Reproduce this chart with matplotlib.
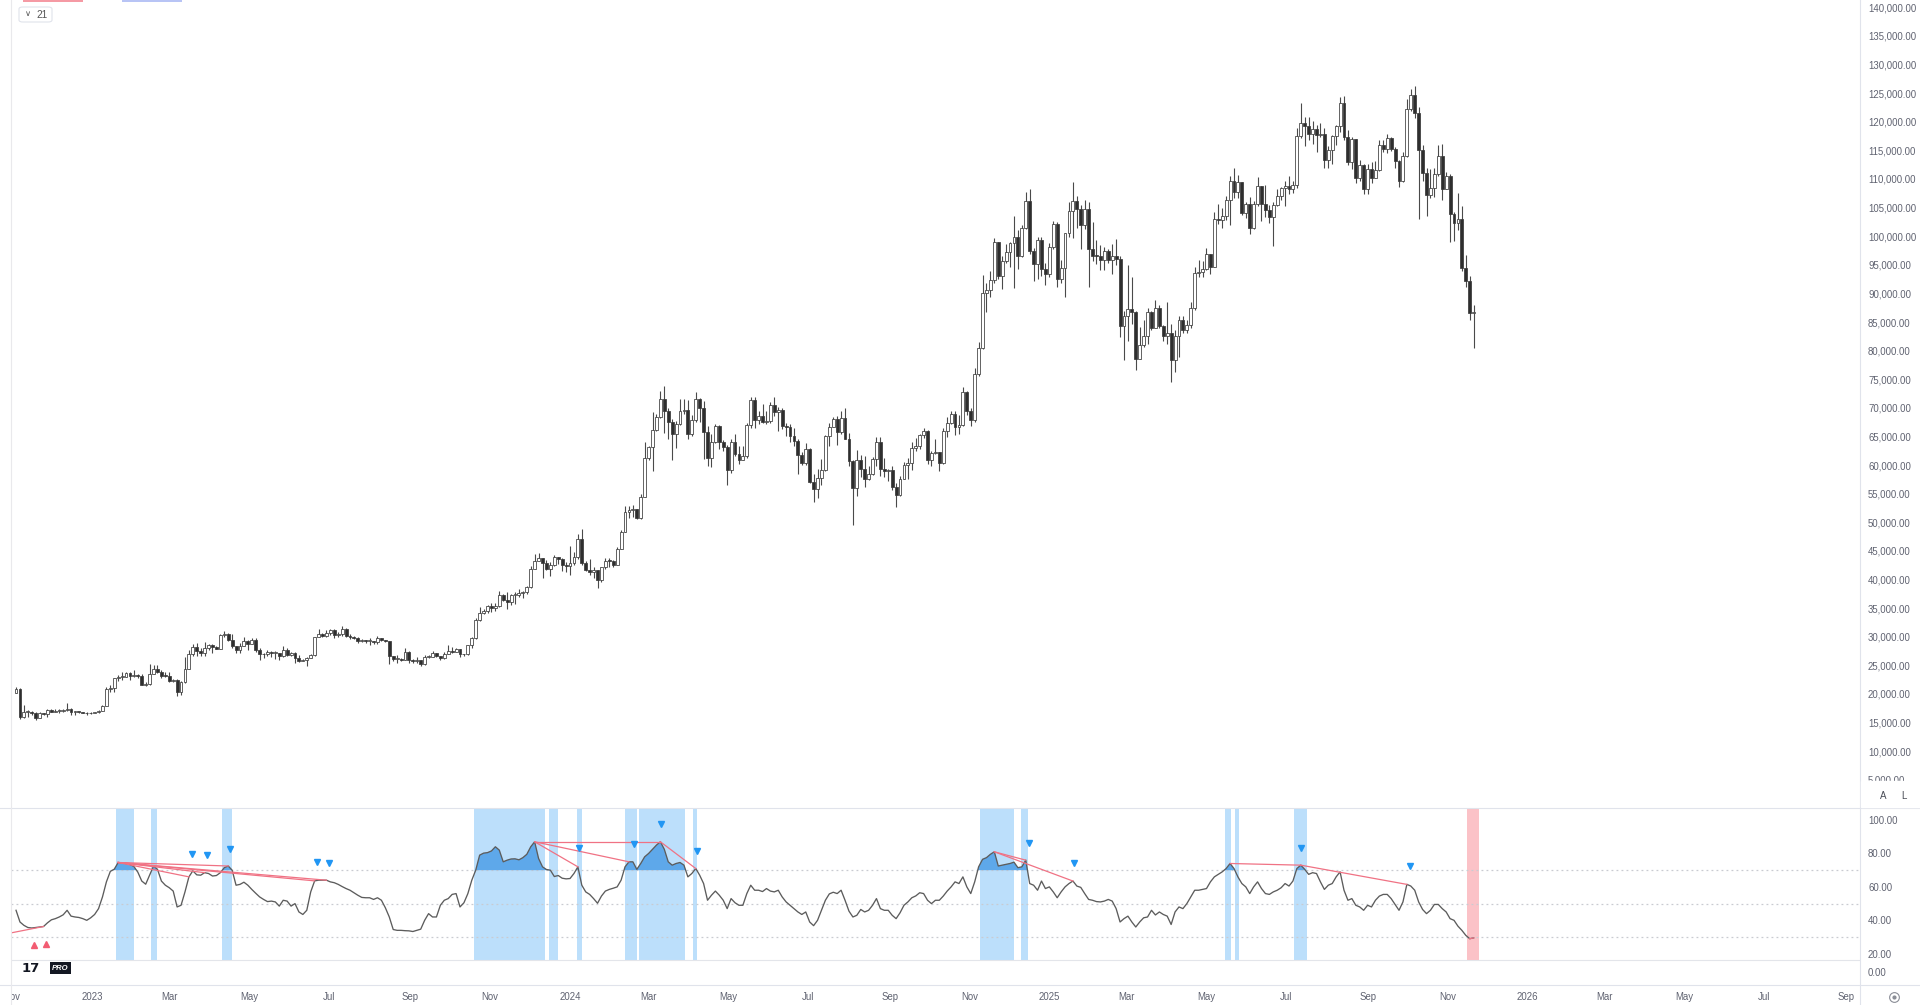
import numpy as np
import pandas as pd
import matplotlib
matplotlib.use("Agg")
import matplotlib.pyplot as plt
import matplotlib.dates as mdates
from matplotlib.lines import Line2D
from matplotlib.patches import Rectangle, FancyBboxPatch

plt.rcParams["font.family"] = ["Liberation Sans", "DejaVu Sans"]

W, H = 1920, 1005

# ---- price data: 3-day candles, values in thousands of USD ----
start = pd.Timestamp("2022-11-04")
first_open = 20.2

closes = [
    20.9, 15.9, 16.9, 16.9, 16.7, 15.8, 16.6, 16.5, 17.2, 16.9,
    17.1, 17.1, 17.2, 17.4, 16.8, 16.9, 16.8, 16.7, 16.6, 16.7,
    16.8, 17.1, 17.9, 20.9, 21.1, 22.7, 22.9, 23.0, 23.7, 23.1,
    23.3, 23.2, 21.6, 21.8, 23.5, 24.3, 23.8, 23.2, 23.1, 22.3,
    22.4, 20.4, 22.1, 24.4, 26.9, 28.2, 27.5, 27.1, 28.0, 28.5,
    28.2, 27.9, 30.3, 30.5, 29.4, 28.3, 27.6, 28.4, 29.3, 28.7,
    29.5, 27.7, 27.0, 26.9, 27.4, 27.1, 27.2, 26.7, 27.7, 26.8,
    27.1, 26.3, 25.8, 25.9, 26.3, 26.8, 29.9, 30.5, 30.1, 30.6,
    31.1, 30.3, 30.4, 31.4, 30.2, 29.9, 29.8, 29.2, 29.3, 29.2,
    29.2, 29.0, 29.8, 29.4, 29.2, 26.6, 26.1, 26.1, 26.0, 27.3,
    25.9, 25.8, 25.9, 25.2, 26.5, 26.5, 27.2, 26.6, 26.2, 26.9,
    27.5, 27.4, 27.9, 26.9, 26.9, 28.5, 29.7, 33.0, 34.2, 34.5,
    35.4, 35.0, 35.4, 37.3, 36.5, 36.0, 37.3, 37.3, 37.7, 37.8,
    38.7, 41.9, 43.3, 43.7, 42.9, 41.9, 42.6, 43.9, 43.6, 42.6,
    42.3, 42.8, 43.9, 47.0, 42.8, 41.7, 41.3, 41.6, 40.0, 42.1,
    43.3, 43.2, 42.6, 45.3, 48.3, 51.8, 52.1, 52.3, 50.7, 54.5,
    61.2, 63.1, 66.1, 68.4, 71.5, 69.5, 67.6, 65.5, 67.2, 69.5,
    69.6, 65.4, 67.8, 71.6, 70.0, 65.7, 61.3, 64.0, 66.8, 64.0,
    63.1, 59.1, 64.0, 62.0, 60.8, 61.6, 67.0, 71.4, 67.9, 68.5,
    67.6, 67.7, 70.5, 69.3, 69.6, 66.8, 66.6, 65.0, 64.2, 61.8,
    60.3, 62.8, 57.0, 55.9, 57.7, 59.2, 65.0, 66.7, 68.0, 65.8,
    68.2, 64.6, 60.7, 56.0, 60.9, 59.3, 57.5, 58.4, 61.1, 64.1,
    59.4, 59.0, 59.1, 56.2, 54.8, 57.6, 60.0, 60.3, 62.9, 63.3,
    65.2, 65.9, 60.8, 62.1, 62.2, 60.3, 66.0, 67.4, 69.0, 66.7,
    67.0, 72.7, 69.5, 67.8, 75.9, 80.4, 90.0, 90.6, 92.3, 98.9,
    93.0, 95.6, 97.3, 98.8, 99.9, 96.6, 101.4, 106.1, 97.5, 95.1,
    99.4, 94.3, 93.4, 98.1, 102.1, 92.5, 94.5, 100.5, 104.4, 106.1,
    104.7, 102.0, 104.7, 97.7, 96.6, 96.5, 95.8, 97.5, 95.8, 96.6,
    96.1, 84.3, 86.0, 87.2, 86.7, 78.6, 80.9, 82.6, 86.8, 83.9,
    87.5, 84.3, 82.5, 83.1, 78.3, 82.6, 85.3, 83.6, 84.5, 87.5,
    93.6, 93.8, 94.2, 96.9, 94.7, 103.0, 102.8, 103.5, 106.4, 109.6,
    107.8, 109.4, 104.0, 105.7, 101.5, 105.7, 108.7, 105.6, 104.5, 103.3,
    105.5, 107.1, 108.4, 108.8, 108.2, 108.9, 117.5, 119.8, 119.3, 117.9,
    118.8, 117.6, 117.9, 113.3, 115.0, 117.5, 119.3, 123.3, 117.4, 112.9,
    116.9, 110.1, 112.5, 108.2, 111.7, 110.2, 111.5, 115.9, 115.3, 117.1,
    115.2, 113.2, 109.6, 114.0, 122.3, 124.7, 121.6, 115.1, 111.0, 107.2,
    108.5, 110.9, 114.1, 108.3, 110.6, 103.9, 102.3, 103.0, 94.5, 92.2,
    86.6, 86.8,
]

highs = [
    21.3, 21.0, 18.1, 17.2, 17.1, 16.8, 16.8, 16.7, 17.3, 17.3,
    17.4, 17.3, 17.4, 18.4, 17.5, 17.1, 16.9, 16.9, 16.8, 16.8,
    16.9, 17.2, 18.1, 21.3, 21.6, 22.8, 23.3, 23.8, 23.9, 23.8,
    24.2, 23.4, 23.4, 22.1, 25.2, 25.0, 25.1, 24.1, 23.9, 23.9,
    22.6, 22.6, 22.2, 26.5, 27.7, 28.8, 28.9, 28.1, 29.1, 28.8,
    28.7, 28.3, 30.4, 31.0, 30.6, 30.5, 28.4, 28.9, 30.0, 29.5,
    29.8, 29.7, 28.0, 27.2, 27.6, 27.5, 27.5, 27.2, 28.4, 28.0,
    27.3, 27.3, 26.8, 26.1, 26.4, 26.9, 30.0, 31.4, 30.7, 31.2,
    31.3, 31.4, 30.8, 31.8, 31.6, 30.4, 30.2, 30.0, 29.6, 29.5,
    29.7, 29.3, 30.2, 29.8, 29.5, 29.3, 26.7, 26.8, 26.2, 28.1,
    27.5, 26.1, 26.4, 26.0, 26.8, 26.8, 27.5, 27.2, 26.7, 27.3,
    28.6, 28.2, 28.0, 27.9, 27.0, 28.6, 30.0, 33.3, 35.2, 34.8,
    35.6, 35.9, 35.9, 38.0, 37.4, 37.9, 37.5, 37.9, 38.4, 38.0,
    38.8, 42.4, 44.5, 44.6, 43.8, 43.4, 43.1, 44.3, 43.9, 43.7,
    43.1, 45.9, 44.8, 47.9, 48.9, 43.3, 43.6, 42.2, 41.7, 42.2,
    43.8, 43.7, 43.4, 45.6, 48.6, 52.8, 52.8, 53.0, 52.4, 54.9,
    64.0, 63.3, 69.2, 69.0, 73.0, 73.8, 70.0, 68.1, 67.7, 71.5,
    71.5, 71.3, 68.7, 72.7, 71.8, 71.2, 66.8, 65.5, 67.2, 67.0,
    64.4, 63.5, 64.5, 65.5, 63.4, 63.4, 67.4, 71.9, 71.9, 69.5,
    70.6, 69.5, 71.1, 71.9, 70.1, 69.9, 67.3, 67.2, 66.4, 64.5,
    62.3, 63.8, 63.0, 58.4, 59.4, 61.0, 65.3, 67.4, 68.4, 68.6,
    69.4, 70.0, 65.6, 60.8, 62.7, 61.8, 61.5, 59.8, 61.4, 64.9,
    64.9, 61.2, 59.4, 59.8, 56.9, 58.1, 60.6, 61.2, 64.1, 64.8,
    65.5, 66.5, 66.1, 62.5, 64.5, 62.3, 66.5, 68.4, 69.4, 69.5,
    68.8, 73.6, 72.9, 69.9, 76.9, 81.5, 93.2, 91.8, 94.0, 99.6,
    99.0, 96.5, 98.7, 99.0, 103.6, 101.1, 101.9, 107.8, 108.3, 98.0,
    99.9, 99.9, 95.4, 98.8, 102.7, 102.5, 95.9, 100.6, 105.9, 109.4,
    107.1, 105.4, 106.4, 106.0, 102.5, 99.3, 98.5, 98.1, 97.7, 98.7,
    99.5, 96.5, 87.0, 95.0, 92.8, 87.0, 84.1, 85.3, 87.5, 87.0,
    88.8, 88.0, 84.5, 88.5, 84.7, 83.6, 86.1, 86.1, 85.4, 88.5,
    94.7, 95.8, 95.6, 97.9, 96.9, 104.3, 105.7, 104.9, 107.1, 110.6,
    111.9, 110.7, 109.4, 105.9, 106.8, 106.2, 110.4, 108.8, 108.9, 105.5,
    106.0, 108.2, 108.6, 109.7, 110.5, 109.7, 118.9, 123.2, 120.9, 120.8,
    120.2, 119.5, 119.8, 118.9, 115.8, 117.7, 119.5, 124.4, 124.5, 118.6,
    117.4, 117.0, 113.4, 112.6, 112.6, 113.0, 113.2, 116.8, 116.8, 117.9,
    117.4, 115.6, 113.4, 114.8, 123.9, 125.7, 126.2, 122.5, 115.9, 111.9,
    111.7, 112.0, 116.0, 116.1, 111.2, 110.8, 104.2, 107.5, 105.3, 96.8,
    93.1, 87.9,
]

lows = [
    20.1, 15.6, 15.8, 15.9, 16.4, 15.5, 15.8, 16.4, 16.0, 16.8,
    16.9, 16.7, 16.9, 17.0, 16.3, 16.3, 16.6, 16.6, 16.3, 16.5,
    16.6, 16.7, 17.1, 17.9, 20.4, 20.4, 22.3, 22.4, 22.9, 22.5,
    22.9, 22.7, 21.6, 21.4, 21.6, 23.4, 23.6, 22.8, 22.9, 22.0,
    22.0, 19.6, 19.8, 21.9, 24.3, 26.6, 26.6, 26.6, 26.7, 27.6,
    27.2, 27.8, 27.9, 29.9, 29.2, 28.0, 27.1, 27.1, 28.4, 27.7,
    28.7, 27.3, 25.9, 26.3, 26.6, 26.4, 26.1, 25.9, 26.5, 26.6,
    26.7, 25.4, 25.5, 25.7, 24.8, 26.2, 26.7, 29.9, 29.9, 29.9,
    30.3, 29.8, 30.0, 30.2, 29.9, 29.6, 29.6, 28.9, 29.0, 28.9,
    28.6, 28.8, 28.8, 29.3, 29.0, 25.2, 25.8, 25.4, 25.8, 25.9,
    25.4, 25.4, 25.4, 24.9, 25.1, 26.2, 26.4, 26.4, 26.0, 26.1,
    26.9, 27.2, 27.3, 26.5, 26.6, 26.8, 28.1, 29.6, 32.8, 33.9,
    34.1, 34.4, 34.5, 35.2, 36.3, 34.8, 35.6, 35.7, 36.9, 36.8,
    37.5, 38.6, 41.8, 43.2, 40.2, 41.6, 40.6, 42.3, 42.7, 41.5,
    41.3, 40.8, 42.6, 43.5, 42.5, 41.5, 40.7, 40.3, 38.6, 39.5,
    41.9, 42.2, 42.2, 42.6, 45.3, 48.3, 50.7, 50.9, 50.5, 50.6,
    54.4, 60.8, 59.0, 66.0, 68.3, 65.6, 64.6, 60.8, 62.9, 67.0,
    68.9, 64.5, 65.1, 67.5, 67.5, 61.0, 59.8, 59.6, 63.9, 62.8,
    62.4, 56.5, 58.6, 61.6, 60.2, 60.8, 61.3, 66.5, 66.4, 67.1,
    67.3, 67.1, 67.3, 68.6, 66.0, 66.3, 65.1, 64.1, 63.4, 58.4,
    60.0, 60.0, 56.8, 53.5, 54.3, 56.5, 59.0, 63.3, 66.6, 63.5,
    65.5, 64.5, 59.9, 49.5, 54.6, 58.0, 56.1, 57.4, 58.2, 59.8,
    58.1, 57.9, 57.2, 55.6, 52.6, 54.6, 57.5, 57.5, 59.2, 62.4,
    62.8, 64.8, 60.1, 59.9, 61.9, 58.9, 60.2, 64.9, 67.1, 65.3,
    65.5, 66.8, 68.8, 66.8, 67.5, 75.6, 80.3, 86.7, 89.4, 91.8,
    92.6, 90.8, 95.3, 94.7, 91.0, 94.3, 96.4, 101.2, 96.9, 92.2,
    92.5, 93.0, 91.4, 92.8, 97.8, 91.2, 91.8, 89.3, 99.9, 99.6,
    101.4, 97.8, 101.3, 91.2, 95.6, 95.1, 94.1, 94.1, 95.3, 93.4,
    94.9, 82.3, 78.3, 81.6, 84.6, 76.7, 78.6, 80.7, 81.2, 83.6,
    83.9, 83.9, 81.6, 81.2, 74.5, 76.2, 78.9, 83.1, 83.1, 84.0,
    87.1, 92.9, 92.9, 94.1, 93.4, 94.7, 102.2, 101.4, 102.9, 102.0,
    106.6, 106.7, 103.7, 103.2, 100.4, 101.2, 105.3, 102.7, 103.4, 102.3,
    98.2, 105.2, 106.4, 105.2, 107.3, 107.5, 108.4, 117.2, 115.8, 116.8,
    116.1, 114.7, 117.3, 112.0, 111.9, 112.7, 115.9, 118.2, 116.8, 112.4,
    111.7, 109.3, 109.6, 107.4, 107.3, 109.3, 110.1, 111.4, 114.7, 114.5,
    114.9, 111.9, 108.6, 109.4, 113.9, 121.8, 120.6, 103.0, 109.6, 103.5,
    106.6, 106.9, 110.6, 106.3, 108.2, 98.9, 99.2, 101.1, 94.0, 91.2,
    85.4, 80.5,
]

# ---- oscillator pane (RSI-like, 0..100), one value per candle ----
rsi = [
    46, 39, 37, 35.7, 35.4, 35.7, 36, 36.3, 38.5, 40.3,
    41, 42, 43.3, 46, 42.5, 42, 41.7, 41, 40, 41.5,
    43.5, 47, 54, 63, 69.3, 70.6, 74.6, 74.3, 74, 73.4,
    72.2, 68.8, 63.5, 61.6, 67, 72.5, 70.5, 63.5, 61, 59.5,
    57.5, 48, 49, 57, 66, 69.6, 67.2, 67, 68.5, 68,
    66.5, 66.8, 68.5, 71.5, 72.5, 70, 61, 61.5, 62.8, 61,
    58.5, 56.2, 54, 52.5, 51.2, 51.5, 51, 48.5, 52, 51.5,
    48.5, 50, 45, 43.5, 46, 57, 63.6, 64, 64, 64,
    63, 62.5, 61.5, 60.2, 59, 58, 56.5, 55, 53.7, 53.5,
    53.5, 52.5, 53.5, 52, 47.5, 42, 34.5, 34, 34, 33.8,
    33.7, 33.3, 34, 34.7, 40, 44, 42, 42, 49, 52,
    53, 55.5, 56, 48, 50.5, 56, 64, 70, 79, 80.2,
    80.5, 81.5, 84, 82, 75, 76, 76.7, 76.8, 76.2, 77.5,
    79.5, 84, 87, 77, 72, 70.4, 70, 66.2, 66.8, 65.2,
    64.8, 65, 68, 72, 61, 57, 55.5, 53, 50.2, 54.5,
    57.5, 58.5, 59.2, 60, 64, 72, 75, 75, 70.5, 74,
    78, 80, 82.5, 85, 87, 82.5, 75, 73, 74, 74.6,
    73, 66, 68, 71, 67, 62, 52, 55, 57.5, 55,
    52, 47, 53, 50.5, 49, 49, 56, 61, 58, 58,
    57.2, 59, 57.5, 57, 58, 54, 51, 49, 47, 45,
    43.5, 45, 39, 36.8, 40, 46, 52, 55.8, 56.8, 56,
    58, 52, 45.5, 42, 43, 46.5, 45, 46, 49, 53,
    47, 46, 46, 43, 41, 44.5, 49, 51, 53.5, 54.6,
    56.5, 56, 52, 50, 52, 52, 54.5, 57.5, 60, 63,
    62, 66, 60, 56, 63, 72, 76.5, 77.5, 79.5, 81,
    72.5, 73, 73.5, 74, 74.8, 71.5, 72, 76, 62, 61,
    58, 63.5, 59, 60, 57, 53.5, 57, 60, 62, 63.5,
    60.5, 59.7, 56, 52.5, 52, 51.2, 51, 51.5, 52.5, 51.5,
    47, 39, 41, 42.5, 39, 36, 39, 41.5, 42, 46,
    43.2, 45, 43.5, 42.5, 37.5, 45, 48, 47, 50, 54,
    58, 58, 58.5, 59, 63, 66, 67.5, 69, 71, 74,
    71, 66, 62, 60, 56, 60, 63, 59, 56, 55.5,
    57, 58, 59.5, 62, 60.5, 63.5, 71, 73, 70.5, 67.5,
    68.5, 68, 63, 58.5, 61, 62, 66, 69, 58, 52,
    53, 49, 48, 46, 49, 48, 52, 54.5, 55.5, 55.5,
    53, 49.5, 46, 51, 61.5, 60.5, 58, 51, 46.5, 44,
    46, 49.5, 49.5, 47, 45, 41, 40, 36.5, 34, 31,
    29, 29.5,
]

overbought_zones = [
    ("2023-01-19", "2023-02-02"), ("2023-02-15", "2023-02-20"),
    ("2023-04-10", "2023-04-18"), ("2023-10-20", "2023-12-13"),
    ("2023-12-16", "2023-12-23"), ("2024-01-06", "2024-01-10"),
    ("2024-02-12", "2024-02-21"), ("2024-02-23", "2024-03-29"),
    ("2024-04-04", "2024-04-07"), ("2024-11-09", "2024-12-05"),
    ("2024-12-10", "2024-12-16"), ("2025-05-15", "2025-05-20"),
    ("2025-05-23", "2025-05-26"), ("2025-07-07", "2025-07-17"),
]
oversold_zones = [("2025-11-16", "2025-11-25")]

# divergence lines: (candle index a, value a, candle index b, value b)
bear_lines = [
    (26, 74.6, 35, 72.5), (26, 74.6, 44, 66.0), (26, 74.6, 48, 68.5),
    (26, 74.6, 54, 72.5), (26, 74.6, 76, 63.6), (26, 74.6, 79, 64.0),
    (132, 87.0, 143, 72.0), (132, 87.0, 156, 75.0), (132, 87.0, 164, 87.0),
    (164, 87.0, 173, 71.0), (249, 81.0, 257, 76.0), (249, 81.0, 269, 63.5),
    (309, 74.0, 327, 73.0), (327, 73.0, 354, 61.5),
]
bull_lines = [(-1, 32.6, 7, 36.3), (370, 29.0, 371, 29.5)]

bear_mark_idx = [44.8, 48.5, 54.5, 76.6, 79.7, 143.3, 157.3, 164.1, 173.2,
                 257.8, 269.3, 327.0, 354.8]
bear_mark_val = [79.6, 79.0, 82.4, 75.0, 74.0, 83.4, 85.4, 97.6, 81.4,
                 86.0, 74.0, 83.0, 72.6]
bull_mark_idx = [4.5, 7.5]
bull_mark_val = [25.0, 26.0]

time_ticks = ["2022-11-01", "2023-01-01", "2023-03-01", "2023-05-01", "2023-07-01",
              "2023-09-01", "2023-11-01", "2024-01-01", "2024-03-01", "2024-05-01",
              "2024-07-01", "2024-09-01", "2024-11-01", "2025-01-01", "2025-03-01",
              "2025-05-01", "2025-07-01", "2025-09-01", "2025-11-01", "2026-01-01",
              "2026-03-01", "2026-05-01", "2026-07-01", "2026-09-01"]
time_labels = ["Nov", "2023", "Mar", "May", "Jul", "Sep", "Nov", "2024", "Mar", "May",
               "Jul", "Sep", "Nov", "2025", "Mar", "May", "Jul", "Sep", "Nov", "2026",
               "Mar", "May", "Jul", "Sep"]

TXT = "#5f6270"
GRID = "#e0e3eb"


def idx_to_x(i):
    return mdates.date2num(start) + 3 * np.asarray(i, dtype=float)


def px_axes(fig, x0, y0, x1, y1):
    return fig.add_axes([x0 / W, 1 - y1 / H, (x1 - x0) / W, (y1 - y0) / H])


fig = plt.figure(figsize=(W / 100, H / 100), dpi=100)
fig.patch.set_facecolor("white")

ax = px_axes(fig, 11, 0, 1860, 808)
ax_r = px_axes(fig, 11, 808, 1860, 985)
ax_t = px_axes(fig, 11, 985, 1860, 1005)

x0 = mdates.date2num(pd.Timestamp("2023-01-01"))
xlim = (x0 - 61.85, x0 + 1350.0)

# ---- candles ----
c = np.array(closes)
o = np.concatenate([[first_open], c[:-1]])
hi = np.maximum(np.array(highs), np.maximum(o, c))
lo = np.minimum(np.array(lows), np.minimum(o, c))
x = idx_to_x(np.arange(len(c)))
up = c >= o

ax.vlines(x, lo, hi, colors="#4a4a4a", linewidth=0.8, zorder=2)
body = np.maximum(np.abs(c - o), 0.15)
ax.bar(x, body, bottom=np.minimum(o, c), width=2.2,
       color=np.where(up, "white", "#2e2e2e"), edgecolor="#3a3a3a",
       linewidth=0.55, zorder=3)

ax.set_xlim(*xlim)
ax.set_ylim(0.066, 141.28)
ax.set_xticks([])
yt = np.arange(5, 141, 5)
ax.set_yticks(yt)
ax.set_yticklabels([f"{v * 1000:,.2f}" for v in yt])
ax.yaxis.tick_right()
ax.tick_params(axis="y", length=0, pad=5.8, labelsize=6.9, labelcolor=TXT)
for s in ax.spines.values():
    s.set_visible(False)

# ---- oscillator pane ----
r = np.array(rsi)
for a, b in overbought_zones:
    ax_r.axvspan(mdates.date2num(pd.Timestamp(a)), mdates.date2num(pd.Timestamp(b)),
                 ymin=0.141, ymax=1, color="#bcdffb", lw=0, zorder=1)
for a, b in oversold_zones:
    ax_r.axvspan(mdates.date2num(pd.Timestamp(a)), mdates.date2num(pd.Timestamp(b)),
                 ymin=0.141, ymax=1, color="#fbc2c7", lw=0, zorder=1)

for lvl in (70, 50, 30):
    ax_r.axhline(lvl, color="#c9cbd1", lw=0.9, ls=(0, (1.5, 2.5)), zorder=2)
ax_r.axhline(16.2, color="#e3e5ea", lw=0.8, zorder=2)

ax_r.fill_between(x, r, 70, where=r > 70, interpolate=True,
                  color="#5ea8ea", lw=0, zorder=3)
ax_r.plot(x, r, color="#5c5c5c", lw=0.95, zorder=4)

for ia, va, ib, vb in bear_lines + bull_lines:
    ax_r.plot(idx_to_x([ia, ib]), [va, vb], color="#f07284", lw=0.9, zorder=5)

ax_r.plot(idx_to_x(bear_mark_idx), bear_mark_val, ls="none", marker="v",
          ms=4.6, color="#2196f3", zorder=6)
ax_r.plot(idx_to_x(bull_mark_idx), bull_mark_val, ls="none", marker="^",
          ms=4.6, color="#f25c72", zorder=6)

ax_r.set_xlim(*xlim)
ax_r.set_ylim(1.3, 107.2)
ax_r.set_xticks([])
rt = [20, 40, 60, 80, 100]
ax_r.set_yticks(rt)
ax_r.set_yticklabels([f"{v:.2f}" for v in rt])
ax_r.yaxis.tick_right()
ax_r.tick_params(axis="y", length=0, pad=5.8, labelsize=6.9, labelcolor=TXT)
for s in ax_r.spines.values():
    s.set_visible(False)
fig.text(1868 / W, 1 - 973 / H, "0.00", fontsize=6.9, color=TXT, va="center", ha="left")

# ---- time axis ----
ax_t.set_xlim(*xlim)
ax_t.set_ylim(0, 1)
ax_t.axis("off")
for d, lab in zip(time_ticks, time_labels):
    ax_t.text(mdates.date2num(pd.Timestamp(d)), 0.4, lab, ha="center", va="center",
              fontsize=6.9, color=TXT, clip_on=True)

# ---- pane borders / chrome ----
def hline_px(y, x0=0, x1=W, color=GRID):
    fig.add_artist(Line2D([x0 / W, x1 / W], [1 - y / H] * 2, transform=fig.transFigure,
                          color=color, lw=0.8))


def vline_px(xp, y0=0, y1=H, color=GRID):
    fig.add_artist(Line2D([xp / W] * 2, [1 - y0 / H, 1 - y1 / H], transform=fig.transFigure,
                          color=color, lw=0.8))


hline_px(808)
hline_px(985)
vline_px(1860)
vline_px(11, color="#e9e9ec")

# cover bottom of price scale (clipped label) and scale buttons
fig.add_artist(Rectangle((1861 / W, 1 - 807 / H), (W - 1861) / W, (807 - 781) / H,
                         transform=fig.transFigure, color="white", zorder=5))
fig.text(1883 / W, 1 - 796 / H, "A", fontsize=7, color="#4a4d57", ha="center",
         va="center", zorder=6)
fig.text(1904 / W, 1 - 796 / H, "L", fontsize=7, color="#4a4d57", ha="center",
         va="center", zorder=6)

# settings icon
fig.add_artist(Line2D([1894 / W], [1 - 997 / H], marker="o", ms=7, mfc="none",
                      mec="#8a8d96", mew=0.8, transform=fig.transFigure))
fig.add_artist(Line2D([1894 / W], [1 - 997 / H], marker="o", ms=2, color="#8a8d96",
                      transform=fig.transFigure))

# collapsed legend box
fig.add_artist(FancyBboxPatch((19 / W, 1 - 22 / H), 33 / W, 15 / H,
                              boxstyle="round,pad=0,rounding_size=0.002",
                              transform=fig.transFigure, fc="white", ec="#e0e3eb",
                              lw=0.8))
fig.text(28 / W, 1 - 14.5 / H, "\u2228", fontsize=6, color="#555", ha="center", va="center")
fig.text(42 / W, 1 - 14.5 / H, "21", fontsize=7.2, color="#555", ha="center", va="center")

# top toolbar remnants
fig.add_artist(Rectangle((23 / W, 1 - 2 / H), 60 / W, 2 / H, transform=fig.transFigure,
                         color="#f59aa4", lw=0))
fig.add_artist(Rectangle((122 / W, 1 - 2 / H), 60 / W, 2 / H, transform=fig.transFigure,
                         color="#b8c4f5", lw=0))

# logo
fig.text(22 / W, 1 - 968 / H, "17", fontsize=9.5, fontweight="black", color="#131722",
         family="DejaVu Sans", va="center", ha="left")
fig.text(52 / W, 1 - 968 / H, "PRO", fontsize=5.5, fontweight="bold", style="italic",
         color="white", va="center", ha="left",
         bbox=dict(boxstyle="square,pad=0.3", fc="#131722", ec="none"))

fig.savefig("out.png", dpi=100, facecolor="white")
